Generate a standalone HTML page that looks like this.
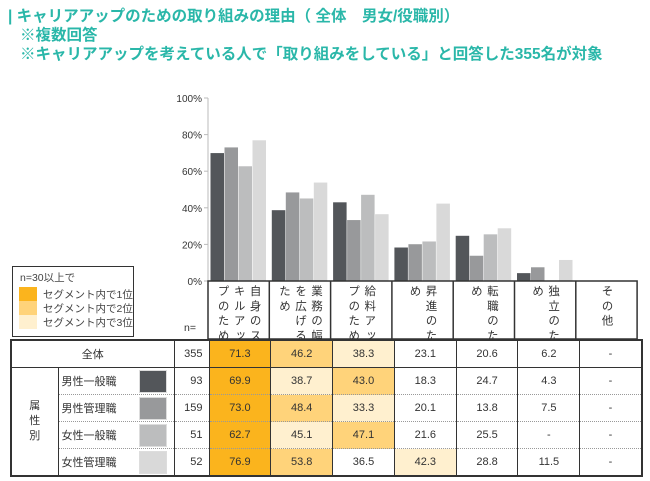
<!DOCTYPE html>
<html><head><meta charset="utf-8">
<style>
body{margin:0;width:650px;height:481px;background:#fff;position:relative;overflow:hidden;font-family:"Liberation Sans","Noto Sans CJK JP",sans-serif;}
.t{position:absolute;color:#2ab7a9;font-size:15.5px;font-weight:bold;white-space:nowrap;font-family:"Liberation Sans","Noto Sans CJK JP",sans-serif;}
.a{position:absolute;}
.vl{position:absolute;text-align:center;height:60px;}
.vl span{display:inline-block;writing-mode:vertical-rl;font-size:11.5px;letter-spacing:3.3px;line-height:16px;height:60px;color:#333;text-align:left;}
td{border:1px solid #333;font-size:11px;color:#333;text-align:center;padding:0;height:26px;}
</style></head><body>
<div class="t" style="left:8px;top:4px;">| キャリアアップのための取り組みの理由（ 全体　男女/役職別）</div>
<div class="t" style="left:20px;top:23px;">※複数回答</div>
<div class="t" style="left:20px;top:42px;">※キャリアアップを考えている人で「取り組みをしている」と回答した355名が対象</div>

<div class="a" style="left:12px;top:266px;width:120px;height:69px;border:1px solid #333;font-size:10.5px;color:#444;">
<div style="position:absolute;left:7px;top:3px;">n=30以上で</div>
<div style="position:absolute;left:6px;top:20px;width:18px;height:14px;background:#fbb41d"></div><div style="position:absolute;left:30px;top:20px;">セグメント内で1位</div>
<div style="position:absolute;left:6px;top:34px;width:18px;height:14px;background:#ffd37a"></div><div style="position:absolute;left:30px;top:34px;">セグメント内で2位</div>
<div style="position:absolute;left:6px;top:48px;width:18px;height:14px;background:#fff0cf"></div><div style="position:absolute;left:30px;top:48px;">セグメント内で3位</div>
</div>
<div class="a" style="left:184px;top:322px;font-size:10.5px;color:#333;">n=</div>

<svg id="chart" class="a" style="left:0;top:0" width="650" height="481"></svg>
<div id="labels"></div>

<table id="tbl" style="position:absolute;left:10px;top:339px;width:631px;border-collapse:collapse;border:2px solid #333;table-layout:fixed;">
<colgroup><col style="width:47px"><col style="width:116px"><col style="width:35px"><col span="7" style="width:61.8px"></colgroup>
<tbody id="tb"></tbody></table>

<script>
const categories=["自身のスキルアップのため","業務の幅を広げるため","給料アップのため","昇進のため","転職のため","独立のため","その他"];
const seriesNames=["男性一般職","男性管理職","女性一般職","女性管理職"];
const seriesN=[93,159,51,52];
const totalRow=["71.3","46.2","38.3","23.1","20.6","6.2","-"];
const s1=[69.9,38.7,43.0,18.3,24.7,4.3,null];
const s2=[73.0,48.4,33.3,20.1,13.8,7.5,null];
const s3=[62.7,45.1,47.1,21.6,25.5,null,null];
const s4=[76.9,53.8,36.5,42.3,28.8,11.5,null];
const ticks=[0,20,40,60,80,100];
const rankTotal=[1,2,3,0,0,0,0];
const rank1=[1,3,2,0,0,0,0];
const rank2=[1,2,3,0,0,0,0];
const rank3=[1,3,2,0,0,0,0];
const rank4=[1,2,0,3,0,0,0];
const series=[s1,s2,s3,s4];
const ranks=[rank1,rank2,rank3,rank4];
const colors=["#53565a","#98999b","#bcbdbe","#d9d9d9"];
const rankColors=["#fff","#fbb41d","#ffd37a","#fff0cf"];
const ns="http://www.w3.org/2000/svg";
const svg=document.getElementById('chart');
const x0=208,colW=61.3,y0=281,yH=183;
const yS=v=>y0-v/100*yH;
const xS=i=>x0+i*colW;
function mk(t,a){const e=document.createElementNS(ns,t);for(const k in a)e.setAttribute(k,a[k]);svg.appendChild(e);return e;}
let ax=mk('line',{x1:x0,y1:yS(100),x2:x0,y2:y0,stroke:'#bbb'});


ticks.forEach(t=>{
 const l=mk('line',{x1:x0-4,x2:x0,y1:yS(t),y2:yS(t),stroke:'#bbb'});
 
 
 const tx=mk('text',{x:x0-6,y:yS(t)+4,'text-anchor':'end','font-size':'10','fill':'#333','font-family':'Liberation Sans, sans-serif'});
 tx.textContent=t+'%';
 
 
});
series.forEach((s,si)=>{s.forEach((v,ci)=>{if(v==null)return;
 const r=mk('rect',{x:xS(ci)+2.5+si*14,y:yS(v),width:13.5,height:y0-yS(v),fill:colors[si]});
 
 
});});
const lb=mk('rect',{x:x0,y:y0,width:colW*7,height:58,fill:'none',stroke:'#333','stroke-width':1.5});


for(let i=1;i<7;i++){const l=mk('line',{x1:xS(i),x2:xS(i),y1:y0,y2:y0+58,stroke:'#333','stroke-width':1.5});
 
 }
const L=document.getElementById('labels');
categories.forEach((c,i)=>{const d=document.createElement('div');d.className='vl';
 d.style.left=(xS(i))+'px';d.style.width=colW+'px';d.style.top=(y0+4)+'px';
 d.innerHTML='<span>'+c+'</span>';
 
 
 L.appendChild(d);});
const tb=document.getElementById('tb');
let h='<tr><td colspan="2">全体</td><td style="text-align:right;padding-right:6px">355</td>';
totalRow.forEach((v,i)=>h+='<td style="background:'+rankColors[rankTotal[i]]+'">'+v+'</td>');h+='</tr>';
seriesNames.forEach((nm,si)=>{
 const bd='border-top:1px dotted #999;border-bottom:1px dotted #999;';
 h+='<tr>';
 if(si==0)h+='<td rowspan="4" style="line-height:15px">属<br>性<br>別</td>';
 h+='<td style="text-align:left;padding-left:3px;position:relative;'+bd+'">'+nm+'<span style="position:absolute;left:80px;top:2px;width:26px;height:21px;background:'+colors[si]+';border:1px solid #ddd"></span></td>';
 h+='<td style="text-align:right;padding-right:6px;'+bd+'">'+seriesN[si]+'</td>';
 series[si].forEach((v,ci)=>h+='<td style="'+bd+'background:'+rankColors[ranks[si][ci]]+'">'+(v==null?'-':v.toFixed(1))+'</td>');
 h+='</tr>';});
tb.innerHTML=h;
</script>
</body></html>
